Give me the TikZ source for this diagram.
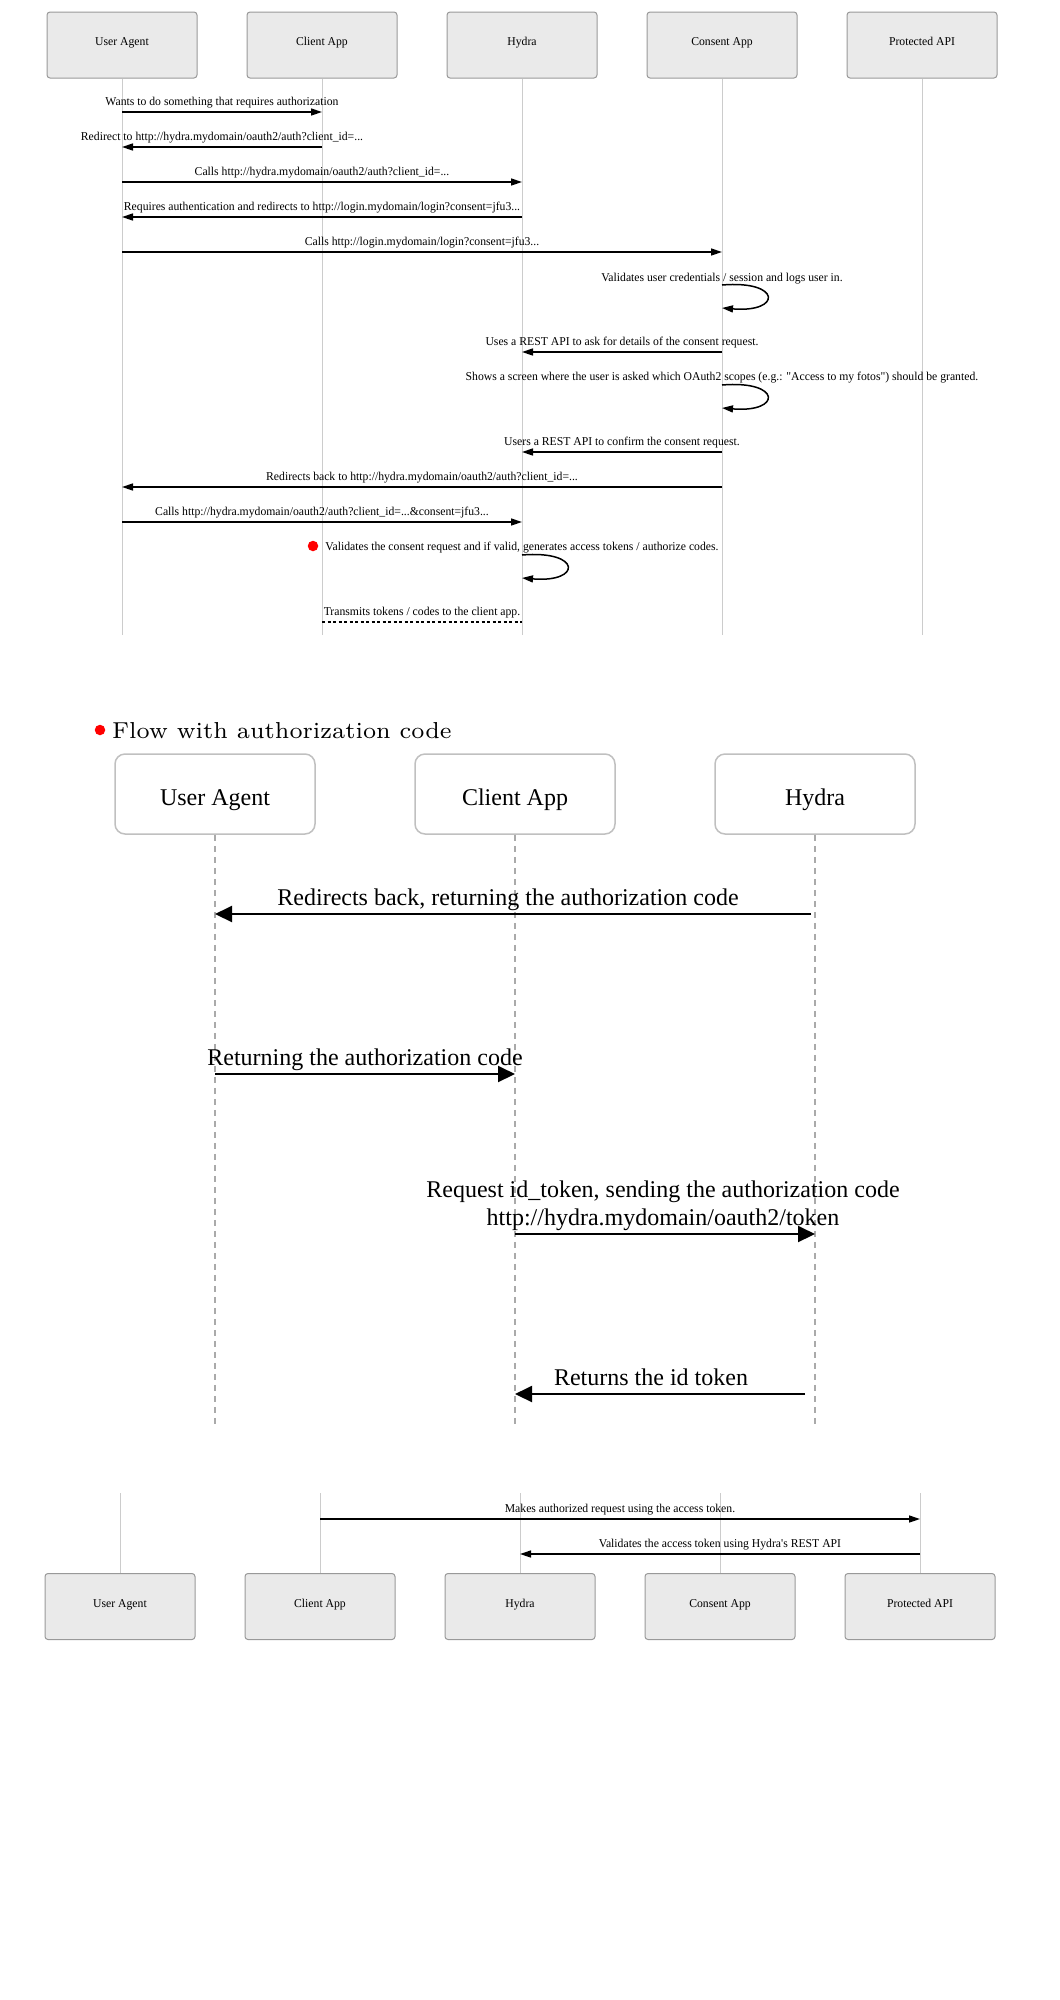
\documentclass[tikz,border=0pt]{standalone}
\usepackage{fontspec}
\newfontfamily\tnr{Liberation Serif}
\newfontfamily\tnrn[FakeStretch=0.975]{Liberation Serif}
\newfontfamily\lmseven{lmroman7-regular.otf}
\usetikzlibrary{arrows.meta}

\definecolor{boxgray}{HTML}{EAEAEA}
\definecolor{boxline}{HTML}{999999}
\definecolor{lifegray}{HTML}{CCCCCC}
\definecolor{roundline}{HTML}{C0C0C0}
\definecolor{dashgray}{HTML}{AAAAAA}

\tikzset{
    actor/.style={draw=boxline, fill=boxgray, line width=1pt, rounded corners=3pt, minimum width=150pt, minimum height=66pt,
        inner sep=0pt, text height=8pt, text depth=7pt, font=\tnrn\fontsize{12}{14}\selectfont},
    actorb/.style={draw=roundline, fill=white, line width=1.5pt, rounded corners=10pt, minimum width=200pt, minimum height=80pt,
        inner sep=0pt, text height=26pt, text depth=4pt, font=\tnr\fontsize{24}{28}\selectfont},
    life/.style={draw=lifegray, line width=0.8pt},
    lifeb/.style={draw=dashgray, line width=1.5pt, dash pattern=on 6pt off 5pt},
    msg/.style={line width=1.5pt, -{Triangle[length=11pt,width=7pt]}},
    msgb/.style={line width=2pt, -{Triangle[length=17pt,width=16pt]}},
    msglbl/.style={anchor=base, yshift=7pt, inner sep=0pt, font=\tnrn\fontsize{12}{14}\selectfont},
    msglblb/.style={anchor=base, yshift=9pt, inner sep=0pt, align=center, font=\tnr\fontsize{24}{28}\selectfont},
    reddot/.style={circle, fill=red, minimum size=10.5pt, inner sep=0pt}
}

\begin{document}
\begin{tikzpicture}[x=1pt, y=-1pt]
    \useasboundingbox (0, 0) rectangle (1060, 2000);

    % first diagram
    \foreach \id/\txt [count=\i] in {ua/User Agent, ca/Client App, hy/Hydra, co/Consent App, pa/Protected API}
        \node[actor] (\id) at ({122 + 200*(\i - 1)}, 45) {\txt};
    \coordinate (end1) at (0, 635);
    \foreach \id in {ua, ca, hy, co, pa}
        \draw[life] (\id.south) -- (\id.south |- end1);

    \foreach \r/\y in {1/112, 2/147, 3/182, 4/217, 5/252, 6/281, 7/352, 8/380, 9/452, 10/487, 11/522, 12/550, 13/622}
        \coordinate (r\r) at (0, \y);

    \draw[msg] (ua |- r1) -- node[msglbl] {Wants to do something that requires authorization} (ca |- r1);   %  ua -- ca
    \draw[msg] (ca |- r2) -- node[msglbl] {Redirect to http://hydra.mydomain/oauth2/auth?client\_id=...} (ua |- r2);   %  ca -- ua
    \draw[msg] (ua |- r3) -- node[msglbl] {Calls http://hydra.mydomain/oauth2/auth?client\_id=...} (hy |- r3);   %  ua -- hy
    \draw[msg] (hy |- r4) -- node[msglbl] {Requires authentication and redirects to http://login.mydomain/login?consent=jfu3...} (ua |- r4);   %  hy -- ua
    \draw[msg] (ua |- r5) -- node[msglbl] {Calls http://login.mydomain/login?consent=jfu3...} (co |- r5);   %  ua -- co

    \node[msglbl, yshift=-7pt] (self1) at (co |- r6) {Validates user credentials / session and logs user in.};
    \draw[msg] ([yshift=-4pt]co |- r6) .. controls +(60, -5) and +(60, 5) .. ([yshift=-27pt]co |- r6);   %  co -- co

    \draw[msg] (co |- r7) -- node[msglbl] {Uses a REST API to ask for details of the consent request.} (hy |- r7);   %  co -- hy

    \node[msglbl, yshift=-7pt] (self2) at (co |- r8) {Shows a screen where the user is asked which OAuth2 scopes (e.g.: "Access to my fotos") should be granted.};
    \draw[msg] ([yshift=-5pt]co |- r8) .. controls +(60, -5) and +(60, 5) .. ([yshift=-28pt]co |- r8);   %  co -- co

    \draw[msg] (co |- r9) -- node[msglbl] {Users a REST API to confirm the consent request.} (hy |- r9);   %  co -- hy
    \draw[msg] (co |- r10) -- node[msglbl] {Redirects back to http://hydra.mydomain/oauth2/auth?client\_id=...} (ua |- r10);   %  co -- ua
    \draw[msg] (ua |- r11) -- node[msglbl] {Calls http://hydra.mydomain/oauth2/auth?client\_id=...\&consent=jfu3...} (hy |- r11);   %  ua -- hy

    \node[msglbl, yshift=-7pt] (self3) at (hy |- r12) {Validates the consent request and if valid, generates access tokens / authorize codes.};
    \node[reddot] (dot1) at (313, 546) {};
    \draw[msg] ([yshift=-5pt]hy |- r12) .. controls +(60, -5) and +(60, 5) .. ([yshift=-28pt]hy |- r12);   %  hy -- hy

    \draw[line width=1.5pt, dash pattern=on 3pt off 2.5pt] (ca |- r13) -- node[msglbl] {Transmits tokens / codes to the client app.} (hy |- r13);   %  ca -- hy

    % second diagram
    \node[reddot] (dot2) at (100, 730) {};
    \node[anchor=base west, inner sep=0pt, font=\lmseven\fontsize{23.1}{28}\selectfont] (title) at (112, 738) {Flow with authorization code};

    \foreach \id/\txt [count=\i] in {ua2/User Agent, ca2/Client App, hy2/Hydra}
        \node[actorb] (\id) at ({215 + 300*(\i - 1)}, 794) {\txt};
    \coordinate (end2) at (0, 1427);
    \foreach \id in {ua2, ca2, hy2}
        \draw[lifeb] (\id.south) -- (\id.south |- end2);

    \foreach \r/\y in {1/914, 2/1074, 3/1234, 4/1394}
        \coordinate (q\r) at (0, \y);

    \draw[msgb, shorten <=4pt] (hy2 |- q1) -- node[msglblb, xshift=-7pt] {Redirects back, returning the authorization code} (ua2 |- q1);   %  hy -- ua
    \draw[msgb] (ua2 |- q2) -- node[msglblb] {Returning the authorization code} (ca2 |- q2);   %  ua -- ca
    \draw[msgb] (ca2 |- q3) -- node[msglblb, xshift=-2pt] {Request id\_token, sending the authorization code\\http://hydra.mydomain/oauth2/token} (hy2 |- q3);   %  ca -- hy
    \draw[msgb, shorten <=10pt] (hy2 |- q4) -- node[msglblb, xshift=-14pt] {Returns the id token} (ca2 |- q4);   %  hy -- ca

    % third diagram
    \foreach \id/\txt [count=\i] in {ua3/User Agent, ca3/Client App, hy3/Hydra, co3/Consent App, pa3/Protected API}
        \node[actor] (\id) at ({120 + 200*(\i - 1)}, 1606.5) {\txt};
    \coordinate (top3) at (0, 1493);
    \foreach \id in {ua3, ca3, hy3, co3, pa3}
        \draw[life] (\id.north |- top3) -- (\id.north);

    \coordinate (t1) at (0, 1519); \coordinate (t2) at (0, 1554);
    \draw[msg] (ca3 |- t1) -- node[msglbl] {Makes authorized request using the access token.} (pa3 |- t1);   %  ca -- pa
    \draw[msg] (pa3 |- t2) -- node[msglbl] {Validates the access token using Hydra's REST API} (hy3 |- t2);   %  pa -- hy
\end{tikzpicture}
\end{document}
